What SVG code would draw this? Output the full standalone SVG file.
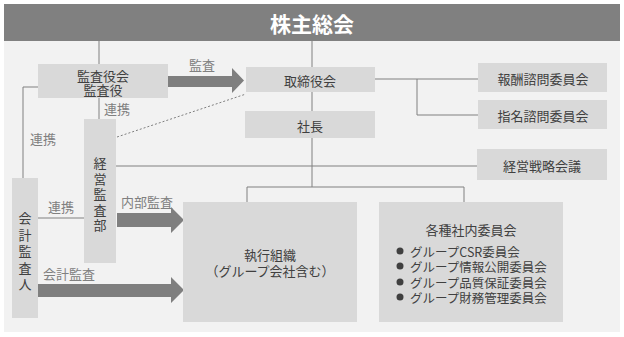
<svg xmlns="http://www.w3.org/2000/svg" width="624" height="337" viewBox="0 0 624 337">
<style>
.box{fill:#d9d9d9}
.t{font-family:"Noto Sans CJK JP","Noto Sans",sans-serif;font-size:13px;fill:#404040;text-anchor:middle;dominant-baseline:central}
.b{font-family:"Noto Sans CJK JP","Noto Sans",sans-serif;font-size:12.5px;fill:#404040;text-anchor:start;dominant-baseline:central}
.lbl{font-family:"Noto Sans CJK JP","Noto Sans",sans-serif;font-size:13px;fill:#808080;text-anchor:middle;dominant-baseline:central}
.ln{stroke:#808080;stroke-width:1;fill:none}
.arr{fill:#7f7f7f}
</style>
<rect x="0" y="0" width="624" height="337" fill="#ffffff"/>
<rect x="4" y="4" width="616" height="328" fill="#f2f2f2"/>
<g id="shareholders">
<rect x="4" y="4" width="616" height="37" fill="#808080"/>
<text x="312" y="23" font-family="'Noto Sans CJK JP','Noto Sans',sans-serif" font-size="21" font-weight="bold" fill="#ffffff" text-anchor="middle" dominant-baseline="central">株主総会</text>
</g>
<g id="connectors">
<path class="ln" d="M99 41V64"/>
<path class="ln" d="M312 41V67"/>
<path class="ln" d="M99 98V119"/>
<path class="ln" d="M38 87H23V178"/>
<path class="ln" d="M312 92V111"/>
<path class="ln" d="M375 79H478"/>
<path class="ln" d="M417 79V115H478"/>
<path class="ln" d="M116 166H477"/>
<path class="ln" d="M38 218H84"/>
<path class="ln" d="M312 138V187"/>
<path class="ln" d="M247 202V187H464V202"/>
<path d="M117 137L246 94" stroke="#808080" stroke-width="1" stroke-dasharray="2,2" fill="none"/>
<polygon class="arr" points="168,76 232,76 232,68 244,80.5 232,93 232,87 168,87"/>
<polygon class="arr" points="117,213 171,213 171,207 184,220 171,233 171,227 117,227"/>
<polygon class="arr" points="38,284 171,284 171,277 184,290 171,303 171,297 38,297"/>
<text class="lbl" x="202" y="64">監査</text>
<text class="lbl" x="117" y="108">連携</text>
<text class="lbl" x="43" y="138">連携</text>
<text class="lbl" x="61" y="206">連携</text>
<text class="lbl" x="147" y="201">内部監査</text>
<text class="lbl" x="69" y="273">会計監査</text>
</g>
<g id="auditboard">
<rect class="box" x="38" y="64" width="130" height="34"/>
<text class="t" x="103" y="75">監査役会</text>
<text class="t" x="103" y="89">監査役</text>
</g>
<g id="board">
<rect class="box" x="246" y="67" width="129" height="25"/>
<text class="t" x="310" y="80">取締役会</text>
</g>
<g id="president">
<rect class="box" x="245" y="111" width="130" height="27"/>
<text class="t" x="310" y="125">社長</text>
</g>
<g id="remuneration">
<rect class="box" x="478" y="63" width="129" height="29"/>
<text class="t" x="543" y="78">報酬諮問委員会</text>
</g>
<g id="nomination">
<rect class="box" x="478" y="100" width="129" height="29"/>
<text class="t" x="543" y="115">指名諮問委員会</text>
</g>
<g id="strategy">
<rect class="box" x="477" y="149" width="130" height="31"/>
<text class="t" x="542" y="165">経営戦略会議</text>
</g>
<g id="internalaudit">
<rect class="box" x="84" y="119" width="32" height="144"/>
<text class="t"><tspan x="100" y="162">経</tspan><tspan x="100" y="177.5">営</tspan><tspan x="100" y="193">監</tspan><tspan x="100" y="208.5">査</tspan><tspan x="100" y="224">部</tspan></text>
</g>
<g id="accountingauditor">
<rect class="box" x="12" y="178" width="26" height="140"/>
<text class="t"><tspan x="25" y="217">会</tspan><tspan x="25" y="233.5">計</tspan><tspan x="25" y="250">監</tspan><tspan x="25" y="266.5">査</tspan><tspan x="25" y="283">人</tspan></text>
</g>
<g id="execution">
<rect class="box" x="183" y="202" width="174" height="120"/>
<text class="t" x="270" y="254">執行組織</text>
<text class="t" x="270" y="270">（グループ会社含む）</text>
</g>
<g id="committees">
<rect class="box" x="379" y="202" width="184" height="120"/>
<text class="t" x="471" y="229">各種社内委員会</text>
<circle cx="400" cy="251" r="3.5" fill="#404040"/>
<circle cx="400" cy="266" r="3.5" fill="#404040"/>
<circle cx="400" cy="282" r="3.5" fill="#404040"/>
<circle cx="400" cy="297" r="3.5" fill="#404040"/>
<text class="b" x="410" y="251">グループCSR委員会</text>
<text class="b" x="410" y="266">グループ情報公開委員会</text>
<text class="b" x="410" y="282">グループ品質保証委員会</text>
<text class="b" x="410" y="297">グループ財務管理委員会</text>
</g>
</svg>
